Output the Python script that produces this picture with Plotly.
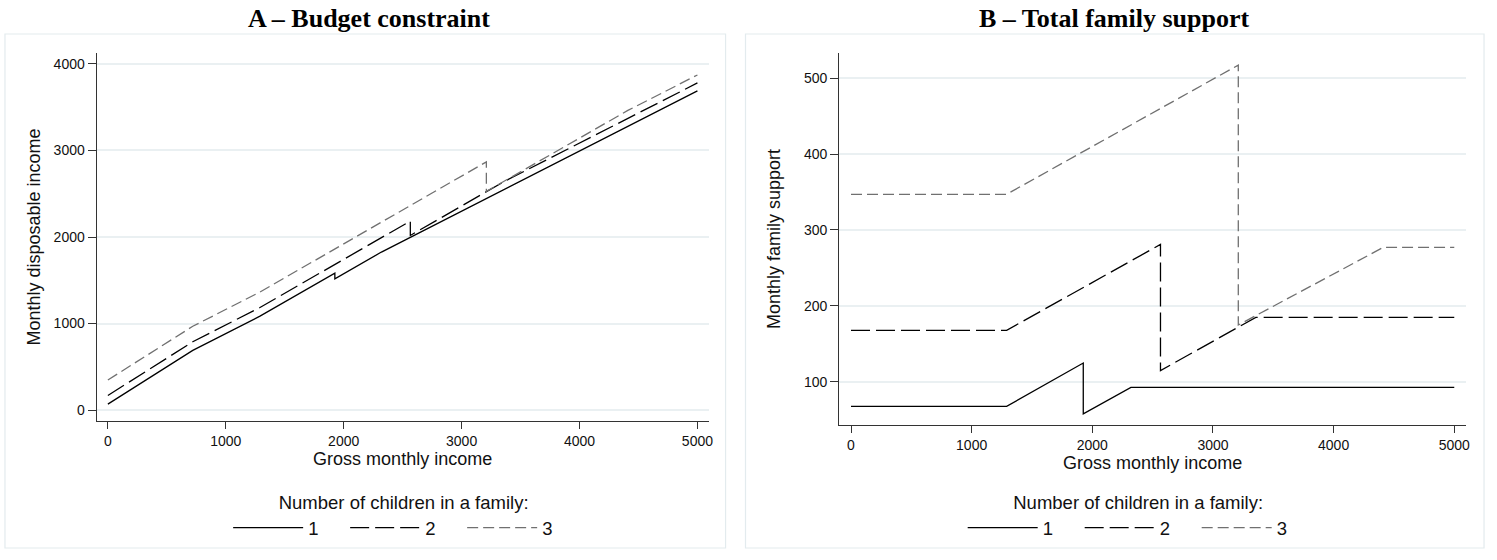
import plotly.graph_objects as go

W, H = 1497, 560

children = ["1", "2", "3"]

# Panel A: budget constraint (monthly disposable income)
a1_x = [0, 720, 1290, 1925, 1925, 2320, 5000]
a1_y = [68, 689, 1085, 1583, 1516, 1826, 3689]
a2_x = [0, 720, 1290, 2565, 2565, 3355, 5000]
a2_y = [168, 789, 1185, 2184, 2018, 2637, 3781]
a3_x = [0, 720, 1290, 3210, 3210, 4410, 5000]
a3_y = [347, 968, 1364, 2869, 2527, 3463, 3873]

# Panel B: total family support
b1_x = [0, 1290, 1925, 1925, 2320, 5000]
b1_y = [68, 68, 125, 58, 93, 93]
b2_x = [0, 1290, 2565, 2565, 3355, 5000]
b2_y = [168, 168, 281, 115, 185, 185]
b3_x = [0, 1290, 3210, 3210, 4410, 5000]
b3_y = [347, 347, 517, 175, 277, 277]

x_ticks = [0, 1000, 2000, 3000, 4000, 5000]
a_y_ticks = [0, 1000, 2000, 3000, 4000]
b_y_ticks = [100, 200, 300, 400, 500]

styles = [
    dict(color="#000000", dash="solid", width=1.3),
    dict(color="#000000", dash="19px,6px", width=1.3),
    dict(color="#707070", dash="11px,5px", width=1.3),
]

SANS = "Liberation Sans, Arial, sans-serif"
SERIF = "Liberation Serif, Times New Roman, serif"

fig = go.Figure()

a_series = [(a1_x, a1_y), (a2_x, a2_y), (a3_x, a3_y)]
b_series = [(b1_x, b1_y), (b2_x, b2_y), (b3_x, b3_y)]

for name, (xs, ys), st in zip(children, a_series, styles):
    fig.add_trace(go.Scatter(x=xs, y=ys, mode="lines", name=name, line=st,
                             xaxis="x", yaxis="y", legend="legend"))
for name, (xs, ys), st in zip(children, b_series, styles):
    fig.add_trace(go.Scatter(x=xs, y=ys, mode="lines", name=name, line=st,
                             xaxis="x2", yaxis="y2", legend="legend2"))

axis_common = dict(
    showline=True, linecolor="#333333", linewidth=1.2,
    ticks="outside", tickcolor="#333333", tickwidth=1.2,
    zeroline=False, tickfont=dict(family=SANS, size=14, color="#111111"),
)

legend_common = dict(
    orientation="h", xanchor="center", y=1 - 485 / H, yanchor="top",
    font=dict(family=SANS, size=18.5, color="#111111"),
    bgcolor="rgba(0,0,0,0)", traceorder="normal",
    itemwidth=70, entrywidth=32,
)

fig.update_layout(
    width=W, height=H,
    margin=dict(l=0, r=0, t=0, b=0),
    paper_bgcolor="white", plot_bgcolor="white",
    xaxis=dict(domain=[97 / W, 711 / W], range=[-95, 5095], anchor="y",
               tickvals=x_ticks, ticklen=7, showgrid=False,
               title=dict(text="Gross monthly income", standoff=4,
                          font=dict(family=SANS, size=18, color="#111111")),
               **axis_common),
    yaxis=dict(domain=[1 - 421 / H, 1 - 53 / H], range=[-127, 4127], anchor="x",
               tickvals=a_y_ticks, ticklen=8, showgrid=True,
               gridcolor="#eaf0f2", gridwidth=1.5,
               title=dict(text="Monthly disposable income", standoff=8,
                          font=dict(family=SANS, size=18, color="#111111")),
               **axis_common),
    xaxis2=dict(domain=[842 / W, 1471 / W], range=[-98, 5098], anchor="y2",
                tickvals=x_ticks, ticklen=7, showgrid=False,
                title=dict(text="Gross monthly income", standoff=4,
                           font=dict(family=SANS, size=18, color="#111111")),
                **axis_common),
    yaxis2=dict(domain=[1 - 425 / H, 1 - 53 / H], range=[43.4, 532.9], anchor="x2",
                tickvals=b_y_ticks, ticklen=8, showgrid=True,
                gridcolor="#eaf0f2", gridwidth=1.5,
                title=dict(text="Monthly family support", standoff=18,
                           font=dict(family=SANS, size=18, color="#111111")),
                **axis_common),
    legend=dict(x=405 / W,
                title=dict(text="Number of children in a family:", side="top center",
                           font=dict(family=SANS, size=18.5, color="#111111")),
                **legend_common),
    legend2=dict(x=1142 / W,
                 title=dict(text="Number of children in a family:", side="top center",
                            font=dict(family=SANS, size=18.5, color="#111111")),
                 **legend_common),
    shapes=[
        dict(type="rect", xref="paper", yref="paper",
             x0=5 / W, x1=728 / W, y0=1 - 548 / H, y1=1 - 34 / H,
             line=dict(color="#e3ebee", width=1.2), layer="below"),
        dict(type="rect", xref="paper", yref="paper",
             x0=748 / W, x1=1489 / W, y0=1 - 548 / H, y1=1 - 34 / H,
             line=dict(color="#e3ebee", width=1.2), layer="below"),
    ],
    annotations=[
        dict(text="<b>A – Budget constraint</b>", xref="paper", yref="paper",
             x=370 / W, y=1 - 19 / H, xanchor="center", yanchor="middle",
             showarrow=False, font=dict(family=SERIF, size=26, color="#000000")),
        dict(text="<b>B – Total family support</b>", xref="paper", yref="paper",
             x=1118 / W, y=1 - 19 / H, xanchor="center", yanchor="middle",
             showarrow=False, font=dict(family=SERIF, size=26, color="#000000")),
    ],
)

fig.write_html("out.html", config={"displayModeBar": False},
               post_script="document.body.style.margin='0';document.body.style.padding='0';")
